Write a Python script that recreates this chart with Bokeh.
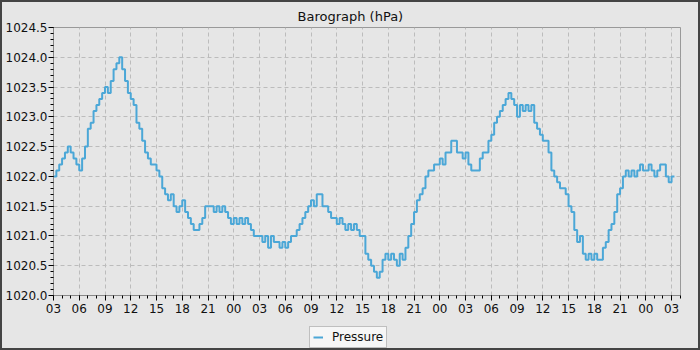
from bokeh.plotting import figure
from bokeh.layouts import column
from bokeh.models import FixedTicker, Legend, LegendItem, Range1d
from bokeh.embed import file_html
from bokeh.resources import INLINE

# Pressure readings (hPa), one every 20 minutes starting at 03:00 on day 1
pressure = [
    1022.0, 1022.1, 1022.2,   # 03
    1022.3, 1022.4, 1022.5,   # 04
    1022.4, 1022.3, 1022.2,   # 05
    1022.1, 1022.3, 1022.5,   # 06
    1022.8, 1022.9, 1023.1,   # 07
    1023.2, 1023.3, 1023.4,   # 08
    1023.5, 1023.4, 1023.6,   # 09
    1023.8, 1023.9, 1024.0,   # 10
    1023.8, 1023.6, 1023.4,   # 11
    1023.3, 1023.2, 1022.9,   # 12
    1022.8, 1022.6, 1022.4,   # 13
    1022.3, 1022.2, 1022.2,   # 14
    1022.1, 1022.0, 1021.8,   # 15
    1021.7, 1021.6, 1021.7,   # 16
    1021.5, 1021.4, 1021.5,   # 17
    1021.6, 1021.4, 1021.3,   # 18
    1021.2, 1021.1, 1021.1,   # 19
    1021.2, 1021.3, 1021.5,   # 20
    1021.5, 1021.5, 1021.4,   # 21
    1021.5, 1021.4, 1021.5,   # 22
    1021.4, 1021.3, 1021.2,   # 23
    1021.3, 1021.2, 1021.3,   # 00
    1021.2, 1021.3, 1021.2,   # 01
    1021.1, 1021.0, 1021.0,   # 02
    1021.0, 1020.9, 1021.0,   # 03
    1020.8, 1021.0, 1020.9,   # 04
    1020.9, 1020.8, 1020.9,   # 05
    1020.8, 1020.9, 1021.0,   # 06
    1021.0, 1021.1, 1021.2,   # 07
    1021.3, 1021.4, 1021.5,   # 08
    1021.6, 1021.5, 1021.7,   # 09
    1021.7, 1021.5, 1021.5,   # 10
    1021.4, 1021.3, 1021.3,   # 11
    1021.2, 1021.3, 1021.2,   # 12
    1021.1, 1021.2, 1021.1,   # 13
    1021.2, 1021.1, 1021.0,   # 14
    1021.0, 1020.7, 1020.6,   # 15
    1020.5, 1020.4, 1020.3,   # 16
    1020.4, 1020.6, 1020.7,   # 17
    1020.6, 1020.7, 1020.6,   # 18
    1020.5, 1020.7, 1020.6,   # 19
    1020.8, 1021.0, 1021.2,   # 20
    1021.4, 1021.6, 1021.7,   # 21
    1021.8, 1022.0, 1022.1,   # 22
    1022.1, 1022.2, 1022.2,   # 23
    1022.3, 1022.2, 1022.4,   # 00
    1022.4, 1022.6, 1022.6,   # 01
    1022.4, 1022.4, 1022.3,   # 02
    1022.4, 1022.2, 1022.1,   # 03
    1022.1, 1022.1, 1022.3,   # 04
    1022.4, 1022.4, 1022.6,   # 05
    1022.7, 1022.9, 1023.0,   # 06
    1023.1, 1023.2, 1023.3,   # 07
    1023.4, 1023.3, 1023.2,   # 08
    1023.0, 1023.2, 1023.1,   # 09
    1023.2, 1023.1, 1023.2,   # 10
    1022.9, 1022.8, 1022.7,   # 11
    1022.6, 1022.6, 1022.4,   # 12
    1022.1, 1022.0, 1021.9,   # 13
    1021.8, 1021.8, 1021.7,   # 14
    1021.5, 1021.4, 1021.1,   # 15
    1020.9, 1021.0, 1020.7,   # 16
    1020.6, 1020.7, 1020.6,   # 17
    1020.7, 1020.6, 1020.6,   # 18
    1020.8, 1020.9, 1021.1,   # 19
    1021.2, 1021.4, 1021.7,   # 20
    1021.8, 1022.0, 1022.1,   # 21
    1022.0, 1022.1, 1022.0,   # 22
    1022.1, 1022.2, 1022.1,   # 23
    1022.1, 1022.2, 1022.1,   # 00
    1022.0, 1022.1, 1022.2,   # 01
    1022.2, 1022.0, 1021.9,   # 02
    1022.0, 1022.0,           # 03
]
sample_minutes = 20
hours = [i * sample_minutes / 60 for i in range(len(pressure))]

tick_labels = ["03", "06", "09", "12", "15", "18", "21", "00",
               "03", "06", "09", "12", "15", "18", "21", "00",
               "03", "06", "09", "12", "15", "18", "21", "00", "03"]
tick_hours = [3 * i for i in range(len(tick_labels))]
minor_hours = list(range(0, 74))
y_major = [1020.0, 1020.5, 1021.0, 1021.5, 1022.0, 1022.5, 1023.0, 1023.5, 1024.0, 1024.5]
y_minor = [round(1020.0 + 0.1 * i, 1) for i in range(46)]
series_name = "Pressure"

BG = "#e6e6e6"
LINE = "#4ba7d7"

p = figure(width=696, height=320, output_backend="svg", toolbar_location=None,
           x_range=Range1d(0, 73.04), y_range=Range1d(1020.0, 1024.5),
           min_border_left=48, min_border_right=18, min_border_top=23,
           min_border_bottom=27, margin=(2, 2, 0, 2))
p.background_fill_color = BG
p.border_fill_color = BG
p.outline_line_color = "#999999"
p.outline_line_width = 1
p.styles = {"background-color": BG}

p.title.text = "Barograph (hPa)"
p.title.align = "left"
p.title.offset = 244
p.title.text_font = "DejaVu Sans"
p.title.text_font_size = "13px"
p.title.text_font_style = "normal"
p.title.text_color = "#111111"
p.title.standoff = 8

p.step(hours, pressure, mode="after", line_color=LINE, line_width=2)

p.xaxis.ticker = FixedTicker(ticks=tick_hours, minor_ticks=minor_hours)
p.xaxis.major_label_overrides = {h: lab for h, lab in zip(tick_hours, tick_labels)}
p.yaxis.ticker = FixedTicker(ticks=y_major, minor_ticks=y_minor)
p.yaxis.formatter.use_scientific = False
p.yaxis.major_label_overrides = {v: f"{v:.1f}" for v in y_major}

for ax in (p.xaxis[0], p.yaxis[0]):
    ax.axis_line_color = "#888888"
    ax.major_tick_line_color = "#000000"
    ax.minor_tick_line_color = "#000000"
    ax.major_tick_out = 5
    ax.major_tick_in = 0
    ax.minor_tick_out = 3
    ax.minor_tick_in = 0
    ax.major_label_text_font = "DejaVu Sans"
    ax.major_label_text_font_size = "12px"
    ax.major_label_text_color = "#111111"
p.yaxis.major_label_standoff = 1
p.xaxis.major_label_standoff = 3

p.xgrid.ticker = FixedTicker(ticks=tick_hours)
p.ygrid.ticker = FixedTicker(ticks=y_major)
for g in (p.xgrid[0], p.ygrid[0]):
    g.grid_line_color = "#bcbcbc"
    g.grid_line_dash = "4 3"
    g.grid_line_width = 1

# legend strip below the chart
lg = figure(width=696, height=26, output_backend="svg", toolbar_location=None,
            x_axis_location=None, y_axis_location=None,
            x_range=Range1d(0, 1), y_range=Range1d(0, 1),
            min_border_left=0, min_border_right=0, min_border_top=0,
            min_border_bottom=0, margin=(0, 2, 2, 2))
lg.background_fill_color = BG
lg.border_fill_color = BG
lg.outline_line_color = None
lg.xgrid.visible = False
lg.ygrid.visible = False
lg.styles = {"background-color": BG}
lr = lg.line([5, 6], [5, 5], line_color=LINE, line_width=2)
legend = Legend(items=[LegendItem(label=series_name, renderers=[lr])],
                location=(256, 0), orientation="horizontal",
                label_text_font="DejaVu Sans", label_text_font_size="12px",
                label_text_color="#111111", label_height=12, glyph_height=12,
                glyph_width=10, label_standoff=9, padding=3, margin=0,
                spacing=0, border_line_color="#888888",
                background_fill_color="#f6f6f6", background_fill_alpha=1.0)
lg.add_layout(legend, "center")

page = column(p, lg, spacing=0, styles={"background-color": "#444444"})

open("out.html", "w").write(file_html(page, INLINE))
